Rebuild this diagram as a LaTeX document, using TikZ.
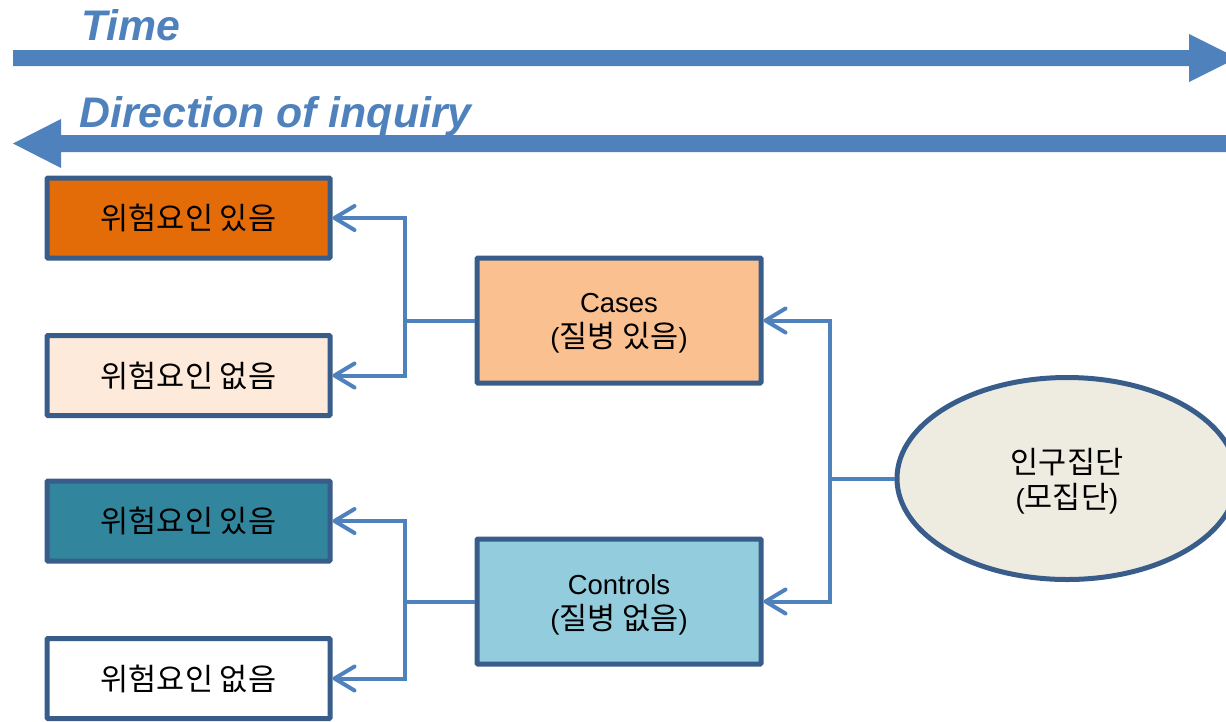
\documentclass[tikz,border=0pt]{standalone}
\usepackage{fontspec}
\setmainfont{Liberation Sans}
\newfontfamily\kr[Scale=1.11]{Noto Sans CJK KR}
\usetikzlibrary{arrows.meta,shapes.geometric}

\definecolor{flowblue}{HTML}{4F81BD}
\definecolor{edgeblue}{HTML}{385D8A}
\definecolor{riskorange}{HTML}{E36C09}
\definecolor{riskpeach}{HTML}{FDEADA}
\definecolor{riskteal}{HTML}{31859C}
\definecolor{casefill}{HTML}{FAC090}
\definecolor{ctrlfill}{HTML}{93CDDD}
\definecolor{popfill}{HTML}{EEECE1}

\tikzset{
  boxtext/.style={font=\fontsize{27.5}{35}\selectfont, text=black, align=center},
  riskbox/.style={boxtext, draw=edgeblue, line width=5pt, rounded corners=1pt,
    minimum width=283pt, minimum height=80pt, inner sep=0pt},
  groupbox/.style={draw=edgeblue, line width=5pt, rounded corners=1pt,
    minimum width=284pt, minimum height=125pt, inner sep=0pt},
  popnode/.style={ellipse, draw=edgeblue, line width=5pt, fill=popfill,
    minimum width=340pt, minimum height=202pt, inner sep=0pt},
  innertext/.style={boxtext, inner sep=0pt, yshift=-3pt},
  link/.style={draw=flowblue, line width=4pt},
  linkarrow/.style={link, -{Straight Barb[length=20pt, width=24pt, round]}},
  bigarrow/.style={fill=flowblue, draw=none},
  headline/.style={font=\fontsize{42.8}{50}\selectfont\bfseries\itshape,
    text=flowblue, inner sep=0pt, anchor=base west},
}

\begin{document}
\begin{tikzpicture}[x=1pt, y=-1pt]
  \clip (0,0) rectangle (1226,721);
  \useasboundingbox (0,0) rectangle (1226,721);

  % time axis (left to right) and direction of inquiry (right to left)
  \fill[bigarrow] (13,50) -- (1189,50) -- (1189,34) -- (1237,58)
    -- (1189,82) -- (1189,66) -- (13,66) -- cycle;
  \fill[bigarrow] (1240,135) -- (61,135) -- (61,119) -- (13,143.5)
    -- (61,168) -- (61,152) -- (1240,152) -- cycle;
  \node[headline] (timelabel) at (81,40) {Time};
  \node[headline] (inqlabel) at (79,127) {Direction of inquiry};

  % exposure boxes
  \node[riskbox, fill=riskorange] (r1) at (188.5,218) {\kr 위험요인 있음};
  \node[riskbox, fill=riskpeach]  (r2) at (188.5,375.5) {\kr 위험요인 없음};
  \node[riskbox, fill=riskteal]   (r3) at (188.5,521) {\kr 위험요인 있음};
  \node[riskbox, fill=white]      (r4) at (188.5,678.5) {\kr 위험요인 없음};

  % case and control groups
  \node[groupbox, fill=casefill] (cases) at (619,320.5) {};
  \node[innertext] (casestext) at (cases.center) {Cases\\({\kr 질병 있음})};
  \node[groupbox, fill=ctrlfill] (ctrls) at (619,601.5) {};
  \node[innertext] (ctrlstext) at (ctrls.center) {Controls\\({\kr 질병 없음})};

  % source population
  \node[popnode] (pop) at (1067,478.5) {};
  \node[innertext] (poptext) at (pop.center) {{\kr 인구집단}\\({\kr 모집단})};

  % population -> groups
  \draw[link] (pop.west) -- ++(-64.5,0) coordinate (jpop);
  \draw[linkarrow] (jpop) |- (cases.east);
  \draw[linkarrow] (jpop) |- (ctrls.east);

  % cases -> exposure
  \draw[link] (cases.west) -- ++(-70,0) coordinate (jcase);
  \draw[linkarrow] (jcase) |- (r1.east);
  \draw[linkarrow] (jcase) |- (r2.east);

  % controls -> exposure
  \draw[link] (ctrls.west) -- ++(-70,0) coordinate (jctrl);
  \draw[linkarrow] (jctrl) |- (r3.east);
  \draw[linkarrow] (jctrl) |- (r4.east);
\end{tikzpicture}
\end{document}
